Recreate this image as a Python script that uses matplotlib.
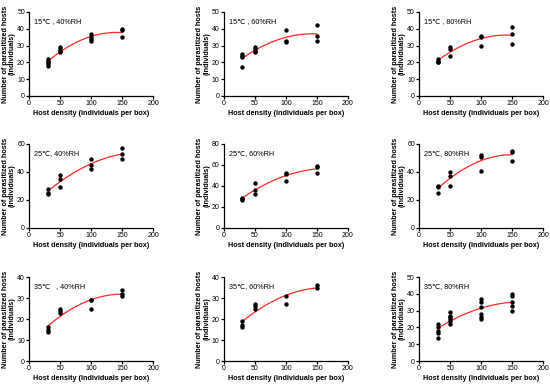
import numpy as np
import matplotlib.pyplot as plt

plt.rcParams['font.family'] = ['Liberation Sans', 'DejaVu Sans']

# host density levels and parasitized hosts per replicate
panel_labels = ['15\u2103 , 40%RH', '15\u2103 , 60%RH', '15\u2103 , 80%RH',
                '25\u2103, 40%RH', '25\u2103, 60%RH', '25\u2103, 80%RH',
                '35\u2103   , 40%RH', '35\u2103, 60%RH', '35\u2103, 80%RH']

t15_rh40 = {30: [18, 19, 20, 21, 22], 50: [26, 27, 28, 29], 100: [33, 34, 35, 37], 150: [35, 39, 40]}
t15_rh60 = {30: [17, 23, 24, 25], 50: [26, 27, 28, 29], 100: [32, 33, 39], 150: [33, 36, 42]}
t15_rh80 = {30: [20, 20, 21, 22], 50: [24, 28, 29], 100: [30, 35, 36], 150: [31, 37, 41]}
t25_rh40 = {30: [24, 25, 28], 50: [29, 35, 38], 100: [42, 45, 49], 150: [49, 53, 57]}
t25_rh60 = {30: [27, 28, 29], 50: [32, 36, 43], 100: [45, 51, 52], 150: [52, 58, 59]}
t25_rh80 = {30: [25, 29, 30], 50: [30, 37, 40], 100: [41, 51, 52], 150: [48, 54, 55]}
t35_rh40 = {30: [14, 15, 16], 50: [23, 24, 25], 100: [25, 29, 29], 150: [31, 32, 34]}
t35_rh60 = {30: [16, 17, 19], 50: [25, 26, 27], 100: [27, 31], 150: [35, 36]}
t35_rh80 = {30: [14, 17, 18, 20, 22], 50: [22, 24, 25, 26, 27, 29],
            100: [25, 26, 28, 32, 35, 37], 150: [30, 33, 35, 39, 40]}

datasets = [t15_rh40, t15_rh60, t15_rh80, t25_rh40, t25_rh60, t25_rh80,
            t35_rh40, t35_rh60, t35_rh80]
y_max = [50, 50, 50, 60, 80, 60, 40, 40, 50]
y_step = [10, 10, 10, 20, 20, 20, 10, 10, 10]

fig = plt.figure(figsize=(5.5, 3.87), dpi=100)

lefts = [0.053, 0.407, 0.762]
bottoms = [0.752, 0.411, 0.067]
w, h = 0.2255, 0.217

for i, data in enumerate(datasets):
    ax = fig.add_axes([lefts[i % 3], bottoms[i // 3], w, h])
    xs = np.concatenate([[k] * len(v) for k, v in data.items()])
    ys = np.concatenate([v for v in data.values()])
    ax.scatter(xs, ys, s=10, color='black', zorder=3, linewidths=0)

    # quadratic fit
    c = np.polyfit(xs, ys, 2)
    xx = np.linspace(30, 150, 100)
    ax.plot(xx, np.polyval(c, xx), color='#ff2a2a', lw=0.9, zorder=2)

    ax.set_xlim(0, 200)
    ax.set_ylim(0, y_max[i])
    ax.set_xticks([0, 50, 100, 150, 200])
    ax.set_yticks(np.arange(0, y_max[i] + 1, y_step[i]))
    ax.spines['top'].set_visible(False)
    ax.spines['right'].set_visible(False)
    for s in ['left', 'bottom']:
        ax.spines[s].set_linewidth(0.9)
    ax.tick_params(labelsize=5, length=2, width=0.9, pad=1)
    ax.set_xlabel('Host density (individuals per box)', fontsize=5.2,
                  fontweight='bold', labelpad=2)
    ax.set_ylabel('Number of parasitized hosts\n(individuals)', fontsize=5.2,
                  fontweight='bold', labelpad=1, linespacing=1.0)
    ax.text(0.04, 0.93, panel_labels[i], transform=ax.transAxes, fontsize=5.2,
            va='top', ha='left')

plt.savefig('out.png', dpi=100)
